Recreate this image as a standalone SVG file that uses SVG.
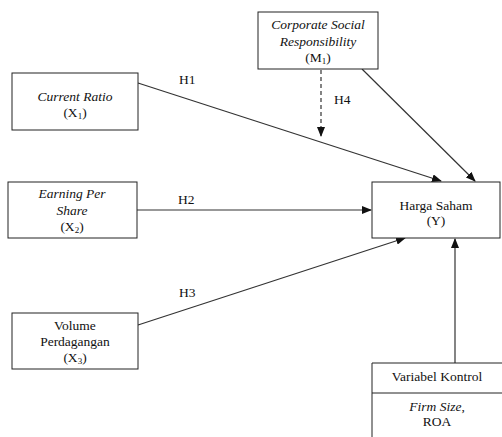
<svg xmlns="http://www.w3.org/2000/svg" width="502" height="437" viewBox="0 0 502 437">
<style>
.box{fill:#fff;stroke:#222;stroke-width:1}
.t{font-family:'Liberation Serif','Times New Roman',serif;font-size:13.5px;fill:#111;text-anchor:middle}
.i{font-style:italic}
.sub{font-size:9px}
.ln{stroke:#333;stroke-width:1.2;fill:none}
.lbl{font-family:'Liberation Serif','Times New Roman',serif;font-size:13.5px;fill:#111}
</style>
<defs>
<marker id="ah" markerWidth="10" markerHeight="8" refX="9" refY="4" orient="auto" markerUnits="userSpaceOnUse">
<path d="M0,0 L10,4 L0,8 Z" fill="#111"/>
</marker>
</defs>
<rect width="502" height="437" fill="#fff"/>
<g id="connectors">
<line class="ln" x1="138" y1="83" x2="441" y2="181" marker-end="url(#ah)"/>
<line class="ln" x1="137" y1="210" x2="371" y2="210" marker-end="url(#ah)"/>
<line class="ln" x1="138" y1="325" x2="405" y2="238" marker-end="url(#ah)"/>
<line class="ln" x1="362" y1="69" x2="475" y2="181" marker-end="url(#ah)"/>
<line class="ln" x1="321" y1="70" x2="321" y2="136" stroke-dasharray="4,3" marker-end="url(#ah)"/>
<line class="ln" x1="455" y1="363" x2="455" y2="239" marker-end="url(#ah)"/>
<text class="lbl" x="179" y="84">H1</text>
<text class="lbl" x="178" y="204">H2</text>
<text class="lbl" x="179" y="297">H3</text>
<text class="lbl" x="334" y="104">H4</text>
</g>
<g id="csr">
<rect class="box" x="258" y="12" width="120" height="57"/>
<text class="t i" x="318" y="29">Corporate Social</text>
<text class="t i" x="318" y="46">Responsibility</text>
<text class="t" x="318" y="62">(M<tspan class="sub" dy="2">1</tspan><tspan dy="-2">)</tspan></text>
</g>
<g id="current-ratio">
<rect class="box" x="12" y="73" width="126" height="57"/>
<text class="t i" x="75" y="101">Current Ratio</text>
<text class="t" x="75" y="117">(X<tspan class="sub" dy="2">1</tspan><tspan dy="-2">)</tspan></text>
</g>
<g id="eps">
<rect class="box" x="8" y="182" width="129" height="56"/>
<text class="t i" x="72" y="198">Earning Per</text>
<text class="t i" x="72" y="215">Share</text>
<text class="t" x="72" y="231">(X<tspan class="sub" dy="2">2</tspan><tspan dy="-2">)</tspan></text>
</g>
<g id="volume">
<rect class="box" x="12" y="313" width="126" height="56"/>
<text class="t" x="75" y="330">Volume</text>
<text class="t" x="75" y="346">Perdagangan</text>
<text class="t" x="75" y="362">(X<tspan class="sub" dy="2">3</tspan><tspan dy="-2">)</tspan></text>
</g>
<g id="harga-saham">
<rect class="box" x="372" y="182" width="128" height="56"/>
<text class="t" x="436" y="210">Harga Saham</text>
<text class="t" x="436" y="225">(Y)</text>
</g>
<g id="variabel-kontrol">
<path class="box" d="M372,437 L372,363 L502,363 M372,393 L502,393"/>
<text class="t" x="437" y="381">Variabel Kontrol</text>
<text class="t" x="437" y="411"><tspan class="i">Firm Size</tspan>,</text>
<text class="t" x="437" y="426">ROA</text>
</g>
</svg>
